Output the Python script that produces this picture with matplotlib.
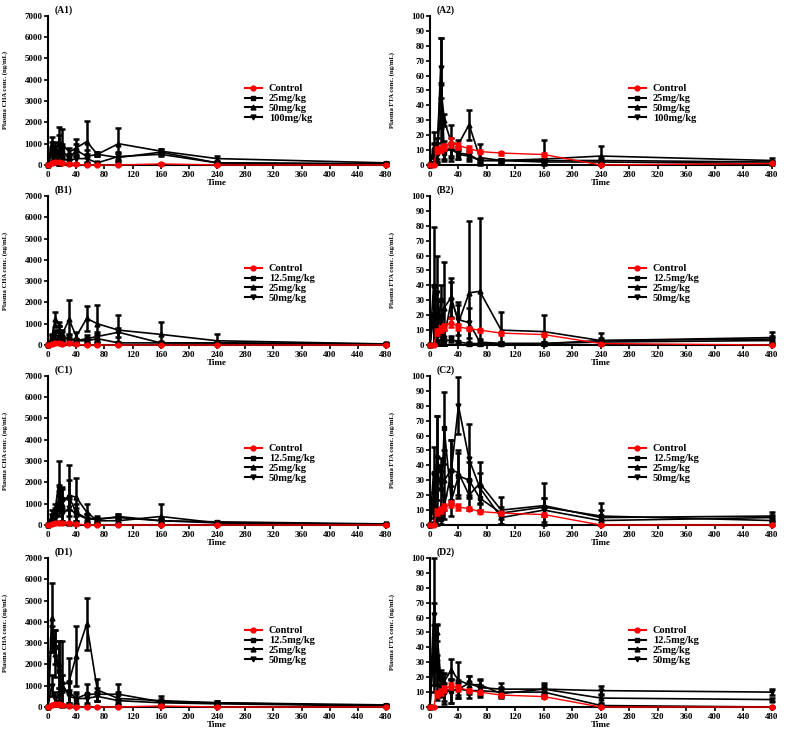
import numpy as np
import matplotlib
matplotlib.use("Agg")
import matplotlib.pyplot as plt
from matplotlib.lines import Line2D

# sampling times (min)
time = [0, 5, 10, 15, 20, 30, 40, 55, 70, 100, 160, 240, 480]

# ---- (A1) CHA, doses 25/50/100 ----
a1_labels = ["Control", "25mg/kg", "50mg/kg", "100mg/kg"]
a1_ctrl = [0, 100, 150, 150, 100, 50, 30, 0, 0, 0, 50, 0, 0]
a1_ctrl_err = [0, 50, 50, 50, 50, 30, 20, 0, 0, 0, 30, 0, 0]
a1_d1 = [0, 800, 600, 1000, 700, 300, 700, 400, 500, 350, 600, 100, 50]
a1_d1_err = [0, 300, 300, 400, 300, 200, 300, 300, 100, 200, 150, 50, 30]
a1_d2 = [0, 1000, 800, 500, 1000, 600, 800, 1100, 500, 1000, 650, 300, 100]
a1_d2_err = [0, 300, 300, 1300, 700, 200, 400, 950, 100, 750, 100, 100, 40]
a1_d3 = [0, 500, 300, 200, 300, 200, 300, 300, 100, 400, 500, 100, 50]
a1_d3_err = [0, 300, 200, 200, 200, 100, 200, 200, 50, 200, 100, 50, 30]

# ---- (A2) FTA, doses 25/50/100 ----
a2_ctrl = [0, 0, 10, 11, 12, 15, 13, 11, 9, 8, 7, 0, 1]
a2_ctrl_err = [0, 0, 2, 2, 2, 3, 2, 2, 1, 1, 1, 0, 0]
a2_d1 = [0, 10, 8, 35, 8, 12, 7, 6, 3, 3, 3, 3, 2]
a2_d1_err = [0, 5, 4, 20, 5, 6, 3, 3, 1, 1, 1, 2, 1]
a2_d2 = [0, 12, 10, 55, 30, 15, 14, 27, 5, 3, 4, 6, 3]
a2_d2_err = [0, 10, 8, 30, 4, 12, 3, 10, 9, 1, 13, 7, 2]
a2_d3 = [0, 8, 7, 65, 10, 10, 8, 7, 3, 3, 2, 2, 1]
a2_d3_err = [0, 6, 5, 20, 6, 5, 4, 3, 2, 1, 1, 1, 1]

# ---- (B1) CHA, doses 12.5/25/50 ----
bcd_labels = ["Control", "12.5mg/kg", "25mg/kg", "50mg/kg"]
b1_ctrl = [0, 50, 100, 80, 50, 80, 30, 0, 0, 0, 0, 0, 0]
b1_ctrl_err = [0, 30, 50, 40, 30, 40, 20, 0, 0, 0, 0, 0, 0]
b1_d1 = [0, 200, 150, 400, 300, 300, 200, 200, 300, 100, 100, 100, 50]
b1_d1_err = [0, 100, 100, 200, 100, 200, 100, 100, 200, 50, 50, 50, 30]
b1_d2 = [0, 300, 1200, 1000, 500, 1200, 400, 1250, 1000, 700, 500, 200, 50]
b1_d2_err = [0, 200, 350, 100, 200, 900, 200, 600, 900, 700, 600, 300, 30]
b1_d3 = [0, 300, 500, 600, 400, 300, 200, 300, 400, 600, 100, 100, 30]
b1_d3_err = [0, 150, 200, 300, 200, 150, 100, 150, 200, 200, 50, 50, 20]

# ---- (B2) FTA ----
b2_ctrl = [0, 0, 9, 11, 12, 15, 12, 11, 10, 8, 7, 1, 0]
b2_ctrl_err = [0, 0, 2, 2, 2, 3, 2, 1, 1, 1, 1, 0, 0]
b2_d1 = [0, 20, 3, 30, 2, 4, 2, 1, 1, 1, 1, 2, 3]
b2_d1_err = [0, 20, 3, 10, 2, 2, 1, 1, 1, 1, 1, 1, 2]
b2_d2 = [0, 40, 10, 8, 25, 32, 15, 35, 36, 10, 9, 3, 5]
b2_d2_err = [0, 39, 20, 10, 31, 13, 14, 48, 49, 12, 11, 5, 4]
b2_d3 = [0, 20, 35, 10, 5, 30, 17, 15, 2, 1, 1, 3, 4]
b2_d3_err = [0, 20, 25, 10, 5, 12, 10, 10, 2, 1, 1, 2, 2]

# ---- (C1) CHA ----
c1_ctrl = [0, 50, 100, 100, 80, 100, 50, 0, 0, 0, 0, 0, 0]
c1_ctrl_err = [0, 30, 50, 50, 40, 50, 30, 0, 0, 0, 0, 0, 0]
c1_d1 = [0, 400, 500, 1000, 1200, 1300, 600, 300, 300, 350, 200, 150, 50]
c1_d1_err = [0, 300, 300, 600, 500, 1500, 400, 200, 100, 100, 100, 50, 20]
c1_d2 = [0, 300, 700, 1900, 1000, 1400, 1300, 600, 200, 200, 400, 100, 30]
c1_d2_err = [0, 200, 300, 1100, 800, 700, 900, 400, 100, 100, 600, 50, 20]
c1_d3 = [0, 200, 300, 1300, 500, 800, 500, 300, 250, 400, 200, 100, 30]
c1_d3_err = [0, 100, 200, 600, 300, 400, 300, 200, 100, 100, 100, 50, 20]

# ---- (C2) FTA ----
c2_ctrl = [0, 0, 9, 10, 12, 14, 12, 11, 9, 8, 7, 0, 0]
c2_ctrl_err = [0, 0, 2, 2, 2, 2, 2, 1, 1, 1, 1, 0, 0]
c2_d1 = [0, 35, 5, 4, 65, 16, 33, 30, 18, 8, 12, 6, 3]
c2_d1_err = [0, 17, 5, 3, 24, 10, 15, 12, 8, 4, 6, 4, 2]
c2_d2 = [0, 12, 40, 25, 30, 37, 35, 20, 28, 10, 13, 5, 6]
c2_d2_err = [0, 10, 33, 15, 20, 20, 15, 10, 14, 9, 15, 10, 3]
c2_d3 = [0, 20, 45, 35, 12, 36, 80, 44, 25, 5, 10, 3, 5]
c2_d3_err = [0, 15, 28, 10, 8, 21, 19, 24, 10, 4, 8, 3, 2]

# ---- (D1) CHA ----
d1_ctrl = [0, 100, 150, 120, 100, 50, 0, 0, 0, 0, 50, 0, 0]
d1_ctrl_err = [0, 50, 50, 50, 40, 30, 0, 0, 0, 0, 30, 0, 0]
d1_d1 = [0, 3200, 2800, 1700, 800, 700, 400, 600, 600, 600, 250, 200, 50]
d1_d1_err = [0, 600, 800, 1400, 700, 500, 300, 500, 300, 500, 150, 100, 30]
d1_d2 = [0, 4200, 2500, 2000, 1000, 1200, 2400, 3900, 800, 400, 300, 200, 100]
d1_d2_err = [0, 1600, 1100, 1100, 2100, 1100, 1400, 1200, 500, 300, 200, 100, 50]
d1_d3 = [0, 1000, 400, 600, 1100, 500, 400, 400, 500, 300, 200, 150, 50]
d1_d3_err = [0, 500, 300, 300, 400, 300, 200, 200, 200, 100, 100, 50, 20]

# ---- (D2) FTA ----
d2_ctrl = [0, 0, 9, 10, 12, 14, 13, 11, 10, 8, 7, 0, 0]
d2_ctrl_err = [0, 0, 2, 2, 2, 2, 2, 1, 1, 1, 1, 0, 0]
d2_d1 = [0, 35, 25, 15, 10, 11, 12, 11, 11, 10, 10, 1, 0]
d2_d1_err = [0, 20, 10, 8, 6, 8, 4, 5, 4, 3, 3, 1, 0]
d2_d2 = [0, 40, 50, 20, 17, 25, 18, 15, 15, 9, 12, 6, 5]
d2_d2_err = [0, 30, 6, 5, 6, 7, 12, 6, 4, 3, 4, 3, 1]
d2_d3 = [0, 62, 30, 18, 12, 11, 12, 16, 13, 12, 12, 11, 10]
d2_d3_err = [0, 38, 25, 5, 10, 8, 6, 5, 5, 4, 3, 3, 2]

panels = [
    ("(A1)", "CHA", a1_labels, [a1_ctrl, a1_d1, a1_d2, a1_d3], [a1_ctrl_err, a1_d1_err, a1_d2_err, a1_d3_err]),
    ("(A2)", "FTA", a1_labels, [a2_ctrl, a2_d1, a2_d2, a2_d3], [a2_ctrl_err, a2_d1_err, a2_d2_err, a2_d3_err]),
    ("(B1)", "CHA", bcd_labels, [b1_ctrl, b1_d1, b1_d2, b1_d3], [b1_ctrl_err, b1_d1_err, b1_d2_err, b1_d3_err]),
    ("(B2)", "FTA", bcd_labels, [b2_ctrl, b2_d1, b2_d2, b2_d3], [b2_ctrl_err, b2_d1_err, b2_d2_err, b2_d3_err]),
    ("(C1)", "CHA", bcd_labels, [c1_ctrl, c1_d1, c1_d2, c1_d3], [c1_ctrl_err, c1_d1_err, c1_d2_err, c1_d3_err]),
    ("(C2)", "FTA", bcd_labels, [c2_ctrl, c2_d1, c2_d2, c2_d3], [c2_ctrl_err, c2_d1_err, c2_d2_err, c2_d3_err]),
    ("(D1)", "CHA", bcd_labels, [d1_ctrl, d1_d1, d1_d2, d1_d3], [d1_ctrl_err, d1_d1_err, d1_d2_err, d1_d3_err]),
    ("(D2)", "FTA", bcd_labels, [d2_ctrl, d2_d1, d2_d2, d2_d3], [d2_ctrl_err, d2_d1_err, d2_d2_err, d2_d3_err]),
]

plt.rcParams["font.family"] = ["Liberation Serif", "DejaVu Serif"]
plt.rcParams["font.weight"] = "bold"

fig = plt.figure(figsize=(7.86, 7.31), dpi=100)

colors = ["red", "black", "black", "black"]
markers = ["o", "s", "^", "v"]

# axes boxes in figure fraction
col_x = [(0.0611, 0.430), (0.547, 0.435)]
row_y = [0.7743, 0.528, 0.2818, 0.0328]
h = 0.204

for i, (tag, drug, labels, series, errs) in enumerate(panels):
    r, c = divmod(i, 2)
    ax = fig.add_axes([col_x[c][0], row_y[r], col_x[c][1], h])
    # draw doses first, control on top
    for k in [1, 2, 3, 0]:
        y = np.array(series[k], dtype=float)
        e = np.array(errs[k], dtype=float)
        lo = np.minimum(e, y)
        ax.errorbar(time, y, yerr=[lo, e], color=colors[k], marker=markers[k],
                    markersize=3.5, linewidth=1.2 if k else 1.0, elinewidth=1.8,
                    capsize=2.5, capthick=1.8, clip_on=False,
                    zorder=3 if k else 4)
    ax.set_xlim(0, 480)
    ax.set_xticks(np.arange(0, 481, 40))
    if drug == "CHA":
        ax.set_ylim(0, 7000)
        ax.set_yticks(np.arange(0, 7001, 1000))
        ax.yaxis.set_label_coords(-0.118, 0.5)
    else:
        ax.set_ylim(0, 100)
        ax.set_yticks(np.arange(0, 101, 10))
        ax.yaxis.set_label_coords(-0.102, 0.5)
    ax.set_ylabel("Plasma %s conc. (ng/mL)" % drug, fontsize=4.8, fontweight="bold")
    ax.set_xlabel("Time", fontsize=6.5, fontweight="bold", labelpad=0)
    for s in ["top", "right"]:
        ax.spines[s].set_visible(False)
    for s in ["left", "bottom"]:
        ax.spines[s].set_linewidth(1.5)
    ax.tick_params(direction="out", length=3, width=1.2, labelsize=6.5, pad=1)
    for t in ax.get_xticklabels() + ax.get_yticklabels():
        t.set_fontweight("bold")
    ax.text(0.02, 1.04, tag, transform=ax.transAxes, fontsize=7, fontweight="bold",
            ha="left", va="center")
    # legend: plain line + marker
    handles = [Line2D([], [], color=colors[k], marker=markers[k], markersize=3.5,
                      linewidth=1.5) for k in range(4)]
    ax.legend(handles, labels, loc="upper left", bbox_to_anchor=(0.57, 0.57),
              frameon=False, fontsize=7.5, handlelength=1.6, labelspacing=0.05,
              handletextpad=0.7, borderaxespad=0)

fig.savefig("out.png", dpi=100)
